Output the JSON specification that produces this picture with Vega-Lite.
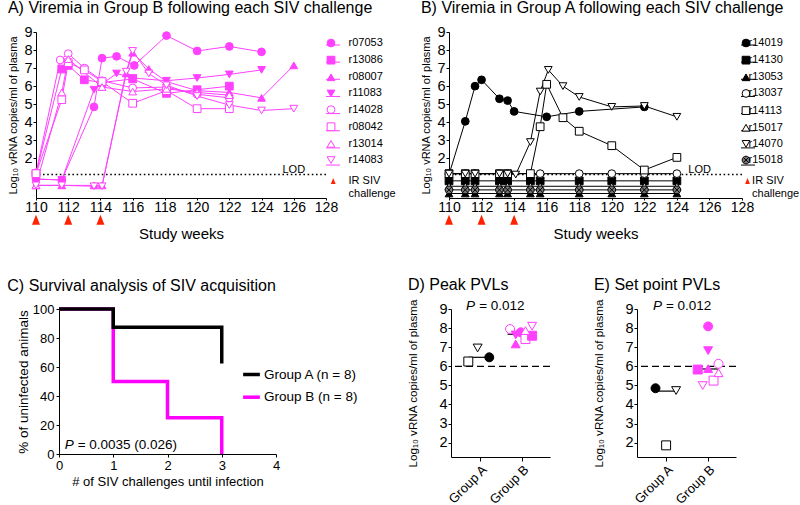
{
"$schema":"https://vega.github.io/schema/vega-lite/v6.json",
"background":"white",
"padding":{"left":0,"top":0,"right":0,"bottom":0},
"spacing":35,
"columns":1,
"align":"none",
"resolve":{"scale":{"shape":"independent","fill":"independent","stroke":"independent","color":"independent"},"legend":{"shape":"independent","fill":"independent","stroke":"independent","color":"independent"}},
"datasets":{
"gb":[
{"animal":"r07053","week":110,"v":0.85},{"animal":"r07053","week":111.6,"v":0.8},{"animal":"r07053","week":113.6,"v":4.85},{"animal":"r07053","week":114.1,"v":7.55},{"animal":"r07053","week":115,"v":7.65},{"animal":"r07053","week":116.1,"v":7.15},{"animal":"r07053","week":118.1,"v":8.8},{"animal":"r07053","week":120,"v":7.95},{"animal":"r07053","week":122,"v":8.2},{"animal":"r07053","week":124,"v":7.9},
{"animal":"r13086","week":110,"v":1.15},{"animal":"r13086","week":111.6,"v":6.95},{"animal":"r13086","week":112,"v":7.15},{"animal":"r13086","week":113,"v":6.35},{"animal":"r13086","week":114.1,"v":6.2},{"animal":"r13086","week":116,"v":6.4},{"animal":"r13086","week":118.1,"v":5.6},{"animal":"r13086","week":120,"v":5.8},{"animal":"r13086","week":122,"v":6.0},
{"animal":"r08007","week":110,"v":0.5},{"animal":"r08007","week":111.6,"v":0.5},{"animal":"r08007","week":113.6,"v":0.5},{"animal":"r08007","week":114.1,"v":0.5},{"animal":"r08007","week":115.6,"v":6.7},{"animal":"r08007","week":116,"v":7.85},{"animal":"r08007","week":117,"v":6.95},{"animal":"r08007","week":118.1,"v":6.25},{"animal":"r08007","week":120,"v":5.75},{"animal":"r08007","week":122,"v":5.65},{"animal":"r08007","week":124,"v":5.35},{"animal":"r08007","week":126,"v":7.15},
{"animal":"r11083","week":110,"v":0.85},{"animal":"r11083","week":111.6,"v":0.8},{"animal":"r11083","week":113.6,"v":5.8},{"animal":"r11083","week":115,"v":6.7},{"animal":"r11083","week":116,"v":6.45},{"animal":"r11083","week":118.1,"v":6.3},{"animal":"r11083","week":120,"v":6.45},{"animal":"r11083","week":122,"v":6.65},{"animal":"r11083","week":124,"v":6.9},
{"animal":"r14028","week":110,"v":1.2},{"animal":"r14028","week":111.5,"v":7.45},{"animal":"r14028","week":112,"v":7.8},{"animal":"r14028","week":113,"v":7.0},{"animal":"r14028","week":114.1,"v":6.3},{"animal":"r14028","week":116,"v":5.9},{"animal":"r14028","week":118.1,"v":5.95},{"animal":"r14028","week":120,"v":5.55},{"animal":"r14028","week":122,"v":5.35},
{"animal":"r08042","week":110,"v":1.15},{"animal":"r08042","week":111.6,"v":5.25},{"animal":"r08042","week":112,"v":7.3},{"animal":"r08042","week":113,"v":6.9},{"animal":"r08042","week":114.1,"v":6.25},{"animal":"r08042","week":116,"v":5.05},{"animal":"r08042","week":118.1,"v":5.75},{"animal":"r08042","week":120,"v":4.75},{"animal":"r08042","week":122,"v":4.75},
{"animal":"r13014","week":110,"v":0.5},{"animal":"r13014","week":111.6,"v":5.65},{"animal":"r13014","week":112,"v":7.5},{"animal":"r13014","week":114.1,"v":5.95},{"animal":"r13014","week":116,"v":5.7},{"animal":"r13014","week":118.1,"v":5.85},{"animal":"r13014","week":120,"v":5.65},{"animal":"r13014","week":122,"v":5.5},
{"animal":"r14083","week":110,"v":0.5},{"animal":"r14083","week":111.6,"v":0.5},{"animal":"r14083","week":113.6,"v":0.45},{"animal":"r14083","week":114.1,"v":0.45},{"animal":"r14083","week":115.6,"v":6.8},{"animal":"r14083","week":116,"v":7.95},{"animal":"r14083","week":117,"v":6.7},{"animal":"r14083","week":118.1,"v":6.05},{"animal":"r14083","week":120,"v":5.45},{"animal":"r14083","week":122,"v":4.95},{"animal":"r14083","week":124,"v":4.65},{"animal":"r14083","week":126,"v":4.75}
],
"ga":[
{"animal":"r14019","week":110,"v":1.1},{"animal":"r14019","week":111,"v":4.05},{"animal":"r14019","week":111.6,"v":6.0},{"animal":"r14019","week":112,"v":6.35},{"animal":"r14019","week":113.1,"v":5.3},{"animal":"r14019","week":113.6,"v":5.2},{"animal":"r14019","week":114,"v":4.6},{"animal":"r14019","week":116,"v":4.3},{"animal":"r14019","week":118,"v":4.6},{"animal":"r14019","week":122,"v":4.85},
{"animal":"r14130","week":110,"v":0.75},{"animal":"r14130","week":111,"v":0.75},{"animal":"r14130","week":111.6,"v":0.75},{"animal":"r14130","week":113.1,"v":0.75},{"animal":"r14130","week":113.6,"v":0.75},{"animal":"r14130","week":115,"v":0.75},{"animal":"r14130","week":115.6,"v":0.75},{"animal":"r14130","week":118,"v":0.75},{"animal":"r14130","week":120,"v":0.75},{"animal":"r14130","week":122,"v":0.75},{"animal":"r14130","week":124,"v":0.75},
{"animal":"r13053","week":110,"v":0.05},{"animal":"r13053","week":111,"v":0.05},{"animal":"r13053","week":111.6,"v":0.05},{"animal":"r13053","week":113.1,"v":0.05},{"animal":"r13053","week":113.6,"v":0.05},{"animal":"r13053","week":115,"v":0.05},{"animal":"r13053","week":115.6,"v":0.05},{"animal":"r13053","week":118,"v":0.05},{"animal":"r13053","week":120,"v":0.05},{"animal":"r13053","week":122,"v":0.05},{"animal":"r13053","week":124,"v":0.05},
{"animal":"r13037","week":110,"v":1.15},{"animal":"r13037","week":111,"v":1.15},{"animal":"r13037","week":111.6,"v":1.15},{"animal":"r13037","week":113.1,"v":1.15},{"animal":"r13037","week":113.6,"v":1.15},{"animal":"r13037","week":115,"v":1.15},{"animal":"r13037","week":115.6,"v":1.15},{"animal":"r13037","week":118,"v":1.15},{"animal":"r13037","week":120,"v":1.15},{"animal":"r13037","week":122,"v":1.15},{"animal":"r13037","week":124,"v":1.15},
{"animal":"r14113","week":110,"v":1.15},{"animal":"r14113","week":111,"v":1.15},{"animal":"r14113","week":111.6,"v":1.15},{"animal":"r14113","week":113.1,"v":1.15},{"animal":"r14113","week":113.6,"v":1.15},{"animal":"r14113","week":115,"v":1.15},{"animal":"r14113","week":115.6,"v":3.75},{"animal":"r14113","week":116,"v":6.1},{"animal":"r14113","week":117,"v":4.25},{"animal":"r14113","week":118,"v":3.5},{"animal":"r14113","week":120,"v":2.7},{"animal":"r14113","week":122,"v":1.35},{"animal":"r14113","week":124,"v":2.05},
{"animal":"r15017","week":110,"v":0.45},{"animal":"r15017","week":111,"v":0.45},{"animal":"r15017","week":111.6,"v":0.45},{"animal":"r15017","week":113.1,"v":0.45},{"animal":"r15017","week":113.6,"v":0.45},{"animal":"r15017","week":115,"v":0.45},{"animal":"r15017","week":115.6,"v":0.45},{"animal":"r15017","week":118,"v":0.45},{"animal":"r15017","week":120,"v":0.45},{"animal":"r15017","week":122,"v":0.45},{"animal":"r15017","week":124,"v":0.45},
{"animal":"r14070","week":110,"v":1.15},{"animal":"r14070","week":111,"v":1.15},{"animal":"r14070","week":111.6,"v":1.15},{"animal":"r14070","week":113.1,"v":1.15},{"animal":"r14070","week":113.6,"v":1.15},{"animal":"r14070","week":114.1,"v":1.1},{"animal":"r14070","week":115,"v":2.9},{"animal":"r14070","week":115.6,"v":5.7},{"animal":"r14070","week":116.1,"v":6.9},{"animal":"r14070","week":117,"v":6.0},{"animal":"r14070","week":118,"v":5.4},{"animal":"r14070","week":120,"v":4.85},{"animal":"r14070","week":122,"v":4.9},{"animal":"r14070","week":124,"v":4.3},
{"animal":"r15018","week":110,"v":0.25},{"animal":"r15018","week":111,"v":0.25},{"animal":"r15018","week":111.6,"v":0.25},{"animal":"r15018","week":113.1,"v":0.25},{"animal":"r15018","week":113.6,"v":0.25},{"animal":"r15018","week":115,"v":0.25},{"animal":"r15018","week":115.6,"v":0.25},{"animal":"r15018","week":118,"v":0.25},{"animal":"r15018","week":120,"v":0.25},{"animal":"r15018","week":122,"v":0.25},{"animal":"r15018","week":124,"v":0.25}
],
"surv":[
{"grp":"Group A (n = 8)","n":0,"pct":100},{"grp":"Group A (n = 8)","n":1,"pct":87.5},{"grp":"Group A (n = 8)","n":3,"pct":62.5},
{"grp":"Group B (n = 8)","n":0,"pct":100},{"grp":"Group B (n = 8)","n":1,"pct":50},{"grp":"Group B (n = 8)","n":2,"pct":25},{"grp":"Group B (n = 8)","n":3,"pct":0}
],
"peak":[
{"animal":"r14113","xpos":0.716,"v":6.25},{"animal":"r14019","xpos":1.22,"v":6.47},{"animal":"r14070","xpos":0.94,"v":6.96},
{"animal":"r14028","xpos":1.72,"v":7.95},{"animal":"r11083","xpos":1.855,"v":7.64},{"animal":"r07053","xpos":1.975,"v":7.78},{"animal":"r08007","xpos":1.855,"v":7.17},{"animal":"r08042","xpos":2.09,"v":7.43},{"animal":"r13086","xpos":2.25,"v":7.6},{"animal":"r13014","xpos":2.09,"v":7.87},{"animal":"r14083","xpos":2.25,"v":8.1}
],
"peakmed":[{"xpos":0.716,"x2":1.22,"v":6.47},{"xpos":1.66,"x2":2.25,"v":7.68}],
"setp":[
{"animal":"r14019","xpos":0.745,"v":4.85},{"animal":"r14113","xpos":1.0,"v":1.86},{"animal":"r14070","xpos":1.24,"v":4.73},
{"animal":"r13086","xpos":1.76,"v":5.83},{"animal":"r11083","xpos":2.01,"v":6.82},{"animal":"r07053","xpos":2.01,"v":8.09},{"animal":"r08007","xpos":2.01,"v":5.88},{"animal":"r14083","xpos":1.88,"v":4.99},{"animal":"r08042","xpos":2.14,"v":5.25},{"animal":"r13014","xpos":2.26,"v":5.66},{"animal":"r14028","xpos":2.26,"v":6.13}
],
"setmed":[{"xpos":0.745,"x2":1.24,"v":4.7},{"xpos":1.76,"x2":2.26,"v":5.86}],
"chal":[{"week":110},{"week":112},{"week":114}]
},
"concat":[
{"hconcat":[
{"width":1,"height":1,"data":{"values":[{"k":1}]},"mark":{"type":"point","opacity":0},"encoding":{}},
{"hconcat":[
{
"width":290,"height":166,
"title":{"text":"A) Viremia in Group B following each SIV challenge","offset":8},
"layer":[
{"data":{"values":[{"v":1.1}]},"mark":{"type":"rule","stroke":"#000","strokeWidth":1.6,"strokeDash":[1.6,2.6]},"encoding":{"y":{"field":"v","type":"quantitative","scale":{"domain":[-0.2,9],"nice":false,"zero":false},"axis":{"values":[2,3,4,5,6,7,8,9],"title":"Log₁₀ vRNA copies/ml of plasma","titleFontSize":11,"labelFontSize":14.5,"tickSize":3,"labelPadding":1,"titlePadding":5,"labelOverlap":false}}}},
{"data":{"name":"gb"},"mark":{"type":"line","strokeWidth":1},"encoding":{
"x":{"field":"week","type":"quantitative","scale":{"domain":[110,128],"nice":false,"zero":false},"axis":{"values":[110,112,114,116,118,120,122,124,126,128],"title":"Study weeks","titleFontSize":15,"labelFontSize":14,"tickSize":2,"labelPadding":0,"titlePadding":12,"labelOverlap":false}},
"y":{"field":"v","type":"quantitative","scale":{"domain":[-0.2,9],"nice":false,"zero":false},"axis":{"values":[2,3,4,5,6,7,8,9],"title":"Log₁₀ vRNA copies/ml of plasma","titleFontSize":11,"labelFontSize":14.5,"tickSize":3,"labelPadding":1,"titlePadding":5,"labelOverlap":false}},
"color":{"field":"animal","type":"nominal","scale":{"domain":["r14083","r13014","r08042","r14028","r11083","r08007","r13086","r07053"],"range":["#ff40ff","#ff40ff","#ff40ff","#ff40ff","#ff40ff","#ff40ff","#ff40ff","#ff40ff"]},"legend":{"orient":"right","offset":-4.5,"padding":5.5,"title":null,"values":["r07053","r13086","r08007","r11083","r14028","r08042","r13014","r14083"],"symbolType":"stroke","symbolSize":196,"symbolStrokeWidth":1,"symbolOffset":-2,"labelFontSize":11,"labelOpacity":0,"rowPadding":4.15,"zindex":0}}}},
{"data":{"name":"gb"},"mark":{"type":"point","filled":true,"size":60,"strokeWidth":1,"opacity":1},"encoding":{
"x":{"field":"week","type":"quantitative","scale":{"domain":[110,128],"nice":false,"zero":false},"axis":{"values":[110,112,114,116,118,120,122,124,126,128],"title":"Study weeks","titleFontSize":15,"labelFontSize":14,"tickSize":2,"labelPadding":0,"titlePadding":12,"labelOverlap":false}},
"y":{"field":"v","type":"quantitative","scale":{"domain":[-0.2,9],"nice":false,"zero":false},"axis":{"values":[2,3,4,5,6,7,8,9],"title":"Log₁₀ vRNA copies/ml of plasma","titleFontSize":11,"labelFontSize":14.5,"tickSize":3,"labelPadding":1,"titlePadding":5,"labelOverlap":false}},
"shape":{"field":"animal","type":"nominal","scale":{"domain":["r07053","r13086","r08007","r11083","r14028","r08042","r13014","r14083"],"range":["circle","square","triangle-up","triangle-down","circle","square","triangle-up","triangle-down"]},"legend":{"orient":"none","legendX":285.5,"legendY":0,"padding":5.5,"title":null,"symbolSize":60,"symbolStrokeWidth":1,"symbolOffset":-1.5,"labelFontSize":11,"labelOffset":12,"rowPadding":4.15,"zindex":1}},
"fill":{"field":"animal","type":"nominal","scale":{"domain":["r07053","r13086","r08007","r11083","r14028","r08042","r13014","r14083"],"range":["#ff40ff","#ff40ff","#ff40ff","#ff40ff","white","white","white","white"]},"legend":{"orient":"none","legendX":285.5,"legendY":0,"padding":5.5,"title":null,"symbolSize":60,"symbolStrokeWidth":1,"symbolOffset":-1.5,"labelFontSize":11,"labelOffset":12,"rowPadding":4.15,"zindex":1}},
"stroke":{"field":"animal","type":"nominal","scale":{"domain":["r07053","r13086","r08007","r11083","r14028","r08042","r13014","r14083"],"range":["#ff40ff","#ff40ff","#ff40ff","#ff40ff","#ff40ff","#ff40ff","#ff40ff","#ff40ff"]},"legend":{"orient":"none","legendX":285.5,"legendY":0,"padding":5.5,"title":null,"symbolSize":60,"symbolStrokeWidth":1,"symbolOffset":-1.5,"labelFontSize":11,"labelOffset":12,"rowPadding":4.15,"zindex":1}}}},
{"data":{"values":[{"v":1.1}]},"mark":{"type":"text","fontSize":11,"dy":-5},"encoding":{
"x":{"datum":126,"type":"quantitative","scale":{"domain":[110,128],"nice":false,"zero":false},"axis":{"values":[110,112,114,116,118,120,122,124,126,128],"title":"Study weeks","titleFontSize":15,"labelFontSize":14,"tickSize":2,"labelPadding":0,"titlePadding":12,"labelOverlap":false}},
"y":{"field":"v","type":"quantitative","scale":{"domain":[-0.2,9],"nice":false,"zero":false},"axis":{"values":[2,3,4,5,6,7,8,9],"title":"Log₁₀ vRNA copies/ml of plasma","titleFontSize":11,"labelFontSize":14.5,"tickSize":3,"labelPadding":1,"titlePadding":5,"labelOverlap":false}},
"text":{"value":"LOD"}}},
{"data":{"name":"chal"},"mark":{"type":"point","shape":"M0,-1L0.8,1L-0.8,1Z","size":100,"filled":true,"color":"#ff2200","opacity":1},"encoding":{
"x":{"field":"week","type":"quantitative","scale":{"domain":[110,128],"nice":false,"zero":false},"axis":{"values":[110,112,114,116,118,120,122,124,126,128],"title":"Study weeks","titleFontSize":15,"labelFontSize":14,"tickSize":2,"labelPadding":0,"titlePadding":12,"labelOverlap":false}},
"y":{"datum":-1.4,"type":"quantitative","scale":{"domain":[-0.2,9],"nice":false,"zero":false},"axis":{"values":[2,3,4,5,6,7,8,9],"title":"Log₁₀ vRNA copies/ml of plasma","titleFontSize":11,"labelFontSize":14.5,"tickSize":3,"labelPadding":1,"titlePadding":5,"labelOverlap":false}}}},
{"data":{"values":[{"k":1}]},"mark":{"type":"point","shape":"M0,-1L0.8,1L-0.8,1Z","size":36,"filled":true,"color":"#ff2200","opacity":1},"encoding":{
"x":{"datum":128.45,"type":"quantitative","scale":{"domain":[110,128],"nice":false,"zero":false},"axis":{"values":[110,112,114,116,118,120,122,124,126,128],"title":"Study weeks","titleFontSize":15,"labelFontSize":14,"tickSize":2,"labelPadding":0,"titlePadding":12,"labelOverlap":false}},
"y":{"datum":0.74,"type":"quantitative","scale":{"domain":[-0.2,9],"nice":false,"zero":false},"axis":{"values":[2,3,4,5,6,7,8,9],"title":"Log₁₀ vRNA copies/ml of plasma","titleFontSize":11,"labelFontSize":14.5,"tickSize":3,"labelPadding":1,"titlePadding":5,"labelOverlap":false}}}},
{"data":{"values":[{"k":1}]},"mark":{"type":"text","fontSize":11,"align":"left","lineHeight":12.6},"encoding":{
"x":{"datum":129.4,"type":"quantitative","scale":{"domain":[110,128],"nice":false,"zero":false},"axis":{"values":[110,112,114,116,118,120,122,124,126,128],"title":"Study weeks","titleFontSize":15,"labelFontSize":14,"tickSize":2,"labelPadding":0,"titlePadding":12,"labelOverlap":false}},
"y":{"datum":0.72,"type":"quantitative","scale":{"domain":[-0.2,9],"nice":false,"zero":false},"axis":{"values":[2,3,4,5,6,7,8,9],"title":"Log₁₀ vRNA copies/ml of plasma","titleFontSize":11,"labelFontSize":14.5,"tickSize":3,"labelPadding":1,"titlePadding":5,"labelOverlap":false}},
"text":{"value":["IR SIV","challenge"]}}}
]
},
{
"width":293,"height":166,
"title":{"text":"B) Viremia in Group A following each SIV challenge","offset":8},
"layer":[
{"data":{"values":[{"v":1.1}]},"mark":{"type":"rule","stroke":"#000","strokeWidth":1.6,"strokeDash":[1.6,2.6]},"encoding":{"y":{"field":"v","type":"quantitative","scale":{"domain":[-0.2,9],"nice":false,"zero":false},"axis":{"values":[2,3,4,5,6,7,8,9],"title":"Log₁₀ vRNA copies/ml of plasma","titleFontSize":11,"labelFontSize":14.5,"tickSize":3,"labelPadding":1,"titlePadding":5,"labelOverlap":false}}}},
{"data":{"name":"ga"},"mark":{"type":"line","strokeWidth":1},"encoding":{
"x":{"field":"week","type":"quantitative","scale":{"domain":[110,128],"nice":false,"zero":false},"axis":{"values":[110,112,114,116,118,120,122,124,126,128],"title":"Study weeks","titleFontSize":15,"labelFontSize":14,"tickSize":2,"labelPadding":0,"titlePadding":12,"labelOverlap":false}},
"y":{"field":"v","type":"quantitative","scale":{"domain":[-0.2,9],"nice":false,"zero":false},"axis":{"values":[2,3,4,5,6,7,8,9],"title":"Log₁₀ vRNA copies/ml of plasma","titleFontSize":11,"labelFontSize":14.5,"tickSize":3,"labelPadding":1,"titlePadding":5,"labelOverlap":false}},
"color":{"field":"animal","type":"nominal","scale":{"domain":["r15018","r14070","r15017","r14113","r13037","r13053","r14130","r14019"],"range":["#000","#000","#000","#000","#000","#000","#000","#000"]},"legend":{"orient":"right","offset":-5.5,"padding":5.5,"title":null,"values":["r14019","r14130","r13053","r13037","r14113","r15017","r14070","r15018"],"symbolType":"stroke","symbolSize":196,"symbolStrokeWidth":1,"symbolOffset":-2,"labelFontSize":11,"labelOpacity":0,"rowPadding":4.15,"zindex":0}}}},
{"data":{"name":"ga"},"mark":{"type":"point","filled":true,"size":60,"strokeWidth":1,"opacity":1},"encoding":{
"x":{"field":"week","type":"quantitative","scale":{"domain":[110,128],"nice":false,"zero":false},"axis":{"values":[110,112,114,116,118,120,122,124,126,128],"title":"Study weeks","titleFontSize":15,"labelFontSize":14,"tickSize":2,"labelPadding":0,"titlePadding":12,"labelOverlap":false}},
"y":{"field":"v","type":"quantitative","scale":{"domain":[-0.2,9],"nice":false,"zero":false},"axis":{"values":[2,3,4,5,6,7,8,9],"title":"Log₁₀ vRNA copies/ml of plasma","titleFontSize":11,"labelFontSize":14.5,"tickSize":3,"labelPadding":1,"titlePadding":5,"labelOverlap":false}},
"shape":{"field":"animal","type":"nominal","scale":{"domain":["r14019","r14130","r13053","r13037","r14113","r15017","r14070","r15018"],"range":["circle","square","triangle-up","circle","square","triangle-up","triangle-down","M1,0A1,1,0,1,1,-1,0A1,1,0,1,1,1,0ZM-0.7,-0.7L0.7,0.7M-0.7,0.7L0.7,-0.7"]},"legend":{"orient":"none","legendX":287.5,"legendY":0,"padding":5.5,"title":null,"symbolSize":60,"symbolStrokeWidth":1,"symbolOffset":-1.5,"labelFontSize":11,"labelOffset":-3,"rowPadding":4.15,"zindex":1}},
"fill":{"field":"animal","type":"nominal","scale":{"domain":["r14019","r14130","r13053","r13037","r14113","r15017","r14070","r15018"],"range":["#000","#000","#000","white","white","white","white","#777"]},"legend":{"orient":"none","legendX":287.5,"legendY":0,"padding":5.5,"title":null,"symbolSize":60,"symbolStrokeWidth":1,"symbolOffset":-1.5,"labelFontSize":11,"labelOffset":-3,"rowPadding":4.15,"zindex":1}},
"stroke":{"field":"animal","type":"nominal","scale":{"domain":["r14019","r14130","r13053","r13037","r14113","r15017","r14070","r15018"],"range":["#000","#000","#000","#000","#000","#000","#000","#000"]},"legend":{"orient":"none","legendX":287.5,"legendY":0,"padding":5.5,"title":null,"symbolSize":60,"symbolStrokeWidth":1,"symbolOffset":-1.5,"labelFontSize":11,"labelOffset":-3,"rowPadding":4.15,"zindex":1}}}},
{"data":{"values":[{"v":1.1}]},"mark":{"type":"text","fontSize":11,"dy":-5},"encoding":{
"x":{"datum":125.4,"type":"quantitative","scale":{"domain":[110,128],"nice":false,"zero":false},"axis":{"values":[110,112,114,116,118,120,122,124,126,128],"title":"Study weeks","titleFontSize":15,"labelFontSize":14,"tickSize":2,"labelPadding":0,"titlePadding":12,"labelOverlap":false}},
"y":{"field":"v","type":"quantitative","scale":{"domain":[-0.2,9],"nice":false,"zero":false},"axis":{"values":[2,3,4,5,6,7,8,9],"title":"Log₁₀ vRNA copies/ml of plasma","titleFontSize":11,"labelFontSize":14.5,"tickSize":3,"labelPadding":1,"titlePadding":5,"labelOverlap":false}},
"text":{"value":"LOD"}}},
{"data":{"name":"chal"},"mark":{"type":"point","shape":"M0,-1L0.8,1L-0.8,1Z","size":100,"filled":true,"color":"#ff2200","opacity":1},"encoding":{
"x":{"field":"week","type":"quantitative","scale":{"domain":[110,128],"nice":false,"zero":false},"axis":{"values":[110,112,114,116,118,120,122,124,126,128],"title":"Study weeks","titleFontSize":15,"labelFontSize":14,"tickSize":2,"labelPadding":0,"titlePadding":12,"labelOverlap":false}},
"y":{"datum":-1.4,"type":"quantitative","scale":{"domain":[-0.2,9],"nice":false,"zero":false},"axis":{"values":[2,3,4,5,6,7,8,9],"title":"Log₁₀ vRNA copies/ml of plasma","titleFontSize":11,"labelFontSize":14.5,"tickSize":3,"labelPadding":1,"titlePadding":5,"labelOverlap":false}}}},
{"data":{"values":[{"k":1}]},"mark":{"type":"point","shape":"M0,-1L0.8,1L-0.8,1Z","size":36,"filled":true,"color":"#ff2200","opacity":1},"encoding":{
"x":{"datum":128.34,"type":"quantitative","scale":{"domain":[110,128],"nice":false,"zero":false},"axis":{"values":[110,112,114,116,118,120,122,124,126,128],"title":"Study weeks","titleFontSize":15,"labelFontSize":14,"tickSize":2,"labelPadding":0,"titlePadding":12,"labelOverlap":false}},
"y":{"datum":0.74,"type":"quantitative","scale":{"domain":[-0.2,9],"nice":false,"zero":false},"axis":{"values":[2,3,4,5,6,7,8,9],"title":"Log₁₀ vRNA copies/ml of plasma","titleFontSize":11,"labelFontSize":14.5,"tickSize":3,"labelPadding":1,"titlePadding":5,"labelOverlap":false}}}},
{"data":{"values":[{"k":1}]},"mark":{"type":"text","fontSize":11,"align":"left","lineHeight":12.6},"encoding":{
"x":{"datum":128.62,"type":"quantitative","scale":{"domain":[110,128],"nice":false,"zero":false},"axis":{"values":[110,112,114,116,118,120,122,124,126,128],"title":"Study weeks","titleFontSize":15,"labelFontSize":14,"tickSize":2,"labelPadding":0,"titlePadding":12,"labelOverlap":false}},
"y":{"datum":0.72,"type":"quantitative","scale":{"domain":[-0.2,9],"nice":false,"zero":false},"axis":{"values":[2,3,4,5,6,7,8,9],"title":"Log₁₀ vRNA copies/ml of plasma","titleFontSize":11,"labelFontSize":14.5,"tickSize":3,"labelPadding":1,"titlePadding":5,"labelOverlap":false}},
"text":{"value":["IR SIV","challenge"]}}}
]
}
],"spacing":24,"resolve":{"scale":{"shape":"independent","fill":"independent","stroke":"independent","color":"independent"},"legend":{"shape":"independent","fill":"independent","stroke":"independent","color":"independent"}}}
],"spacing":0,"resolve":{"scale":{"shape":"independent","fill":"independent","stroke":"independent","color":"independent"},"legend":{"shape":"independent","fill":"independent","stroke":"independent","color":"independent"}}},
{"hconcat":[
{"width":1,"height":1,"data":{"values":[{"k":1}]},"mark":{"type":"point","opacity":0},"encoding":{}},
{"hconcat":[
{
"width":217,"height":145,
"title":{"text":"C) Survival analysis of SIV acquisition","offset":8,"dx":-9},
"data":{"name":"surv"},
"layer":[
{"transform":[{"filter":"datum.grp == 'Group B (n = 8)'"}],"mark":{"type":"line","interpolate":"step-after","strokeWidth":3.5},"encoding":{
"x":{"field":"n","type":"quantitative","scale":{"domain":[0,4],"nice":false},"axis":{"values":[0,1,2,3,4],"format":"d","title":"# of SIV challenges until infection","titleFontSize":13,"labelFontSize":13,"tickSize":3,"labelPadding":2,"titlePadding":3,"labelOverlap":false}},
"y":{"field":"pct","type":"quantitative","scale":{"domain":[0,100],"nice":false},"axis":{"values":[0,20,40,60,80,100],"format":"d","title":"% of uninfected animals","titleFontSize":13.5,"labelFontSize":13,"tickSize":3,"labelPadding":2,"titlePadding":2,"labelOverlap":false}},
"color":{"field":"grp","type":"nominal","scale":{"domain":["Group A (n = 8)","Group B (n = 8)"],"range":["#000","#ff00ff"]},"legend":{"orient":"none","legendX":182,"legendY":55,"title":null,"labelFontSize":13.5,"symbolType":"stroke","symbolStrokeWidth":3.5,"symbolSize":280,"rowPadding":4.7,"labelOffset":2}}}},
{"transform":[{"filter":"datum.grp == 'Group A (n = 8)'"}],"mark":{"type":"line","interpolate":"step-after","strokeWidth":3.5},"encoding":{
"x":{"field":"n","type":"quantitative","scale":{"domain":[0,4],"nice":false},"axis":{"values":[0,1,2,3,4],"format":"d","title":"# of SIV challenges until infection","titleFontSize":13,"labelFontSize":13,"tickSize":3,"labelPadding":2,"titlePadding":3,"labelOverlap":false}},
"y":{"field":"pct","type":"quantitative","scale":{"domain":[0,100],"nice":false},"axis":{"values":[0,20,40,60,80,100],"format":"d","title":"% of uninfected animals","titleFontSize":13.5,"labelFontSize":13,"tickSize":3,"labelPadding":2,"titlePadding":2,"labelOverlap":false}},
"color":{"field":"grp","type":"nominal"}}},
{"data":{"values":[{"k":1}]},"mark":{"type":"text","fontSize":13.5,"fontStyle":"italic","align":"right"},"encoding":{
"x":{"datum":0.27,"type":"quantitative","scale":{"domain":[0,4],"nice":false},"axis":{"values":[0,1,2,3,4],"format":"d","title":"# of SIV challenges until infection","titleFontSize":13,"labelFontSize":13,"tickSize":3,"labelPadding":2,"titlePadding":3,"labelOverlap":false}},
"y":{"datum":6,"type":"quantitative","scale":{"domain":[0,100],"nice":false},"axis":{"values":[0,20,40,60,80,100],"format":"d","title":"% of uninfected animals","titleFontSize":13.5,"labelFontSize":13,"tickSize":3,"labelPadding":2,"titlePadding":2,"labelOverlap":false}},
"text":{"value":"P"}}},
{"data":{"values":[{"k":1}]},"mark":{"type":"text","fontSize":13.5,"align":"left","dx":4},"encoding":{
"x":{"datum":0.27,"type":"quantitative","scale":{"domain":[0,4],"nice":false},"axis":{"values":[0,1,2,3,4],"format":"d","title":"# of SIV challenges until infection","titleFontSize":13,"labelFontSize":13,"tickSize":3,"labelPadding":2,"titlePadding":3,"labelOverlap":false}},
"y":{"datum":6,"type":"quantitative","scale":{"domain":[0,100],"nice":false},"axis":{"values":[0,20,40,60,80,100],"format":"d","title":"% of uninfected animals","titleFontSize":13.5,"labelFontSize":13,"tickSize":3,"labelPadding":2,"titlePadding":2,"labelOverlap":false}},
"text":{"value":"= 0.0035 (0.026)"}}}
]
},
{"hconcat":[
{
"width":99,"height":148,
"title":{"text":"D) Peak PVLs","offset":6},
"layer":[
{"data":{"values":[{"v":6}]},"mark":{"type":"rule","strokeDash":[7,4],"strokeWidth":1.2,"color":"#000"},"encoding":{
"y":{"field":"v","type":"quantitative","scale":{"domain":[1.25,9],"nice":false,"zero":false},"axis":{"values":[2,3,4,5,6,7,8,9],"title":"Log₁₀ vRNA copies/ml of plasma","titleFontSize":11.7,"labelFontSize":14.5,"tickSize":3,"labelPadding":1,"titlePadding":20,"labelOverlap":false}}}},
{"data":{"name":"peakmed"},"mark":{"type":"rule","strokeWidth":1.2,"color":"#000"},"encoding":{
"x":{"field":"xpos","type":"quantitative","scale":{"domain":[0.3,2.68],"nice":false,"zero":false},"axis":{"values":[1,2],"labelExpr":"datum.value == 1 ? 'Group A' : 'Group B'","labelAngle":-45,"labelFontSize":13,"title":null,"tickSize":4,"labelPadding":2,"labelOverlap":false}},
"x2":{"field":"x2"},
"y":{"field":"v","type":"quantitative","scale":{"domain":[1.25,9],"nice":false,"zero":false},"axis":{"values":[2,3,4,5,6,7,8,9],"title":"Log₁₀ vRNA copies/ml of plasma","titleFontSize":11.7,"labelFontSize":14.5,"tickSize":3,"labelPadding":1,"titlePadding":20,"labelOverlap":false}}}},
{"data":{"name":"peak"},"mark":{"type":"point","filled":true,"size":80,"strokeWidth":1,"opacity":1},"encoding":{
"x":{"field":"xpos","type":"quantitative","scale":{"domain":[0.3,2.68],"nice":false,"zero":false},"axis":{"values":[1,2],"labelExpr":"datum.value == 1 ? 'Group A' : 'Group B'","labelAngle":-45,"labelFontSize":13,"title":null,"tickSize":4,"labelPadding":2,"labelOverlap":false}},
"y":{"field":"v","type":"quantitative","scale":{"domain":[1.25,9],"nice":false,"zero":false},"axis":{"values":[2,3,4,5,6,7,8,9],"title":"Log₁₀ vRNA copies/ml of plasma","titleFontSize":11.7,"labelFontSize":14.5,"tickSize":3,"labelPadding":1,"titlePadding":20,"labelOverlap":false}},
"shape":{"field":"animal","type":"nominal","legend":null,"scale":{"domain":["r07053","r13086","r08007","r11083","r14028","r08042","r13014","r14083","r14019","r14130","r13053","r13037","r14113","r15017","r14070","r15018"],"range":["circle","square","triangle-up","triangle-down","circle","square","triangle-up","triangle-down","circle","square","triangle-up","circle","square","triangle-up","triangle-down","circle"]}},
"fill":{"field":"animal","type":"nominal","legend":null,"scale":{"domain":["r07053","r13086","r08007","r11083","r14028","r08042","r13014","r14083","r14019","r14130","r13053","r13037","r14113","r15017","r14070","r15018"],"range":["#ff40ff","#ff40ff","#ff40ff","#ff40ff","white","white","white","white","#000","#000","#000","white","white","white","white","#777"]}},
"stroke":{"field":"animal","type":"nominal","legend":null,"scale":{"domain":["r07053","r13086","r08007","r11083","r14028","r08042","r13014","r14083","r14019","r14130","r13053","r13037","r14113","r15017","r14070","r15018"],"range":["#ff40ff","#ff40ff","#ff40ff","#ff40ff","#ff40ff","#ff40ff","#ff40ff","#ff40ff","#000","#000","#000","#000","#000","#000","#000","#000"]}}}},
{"data":{"values":[{"k":1}]},"mark":{"type":"text","fontSize":13.5,"fontStyle":"italic","align":"right"},"encoding":{
"x":{"datum":0.88,"type":"quantitative","scale":{"domain":[0.3,2.68],"nice":false,"zero":false},"axis":{"values":[1,2],"labelExpr":"datum.value == 1 ? 'Group A' : 'Group B'","labelAngle":-45,"labelFontSize":13,"title":null,"tickSize":4,"labelPadding":2,"labelOverlap":false}},
"y":{"datum":9.15,"type":"quantitative","scale":{"domain":[1.25,9],"nice":false,"zero":false},"axis":{"values":[2,3,4,5,6,7,8,9],"title":"Log₁₀ vRNA copies/ml of plasma","titleFontSize":11.7,"labelFontSize":14.5,"tickSize":3,"labelPadding":1,"titlePadding":20,"labelOverlap":false}},
"text":{"value":"P"}}},
{"data":{"values":[{"k":1}]},"mark":{"type":"text","fontSize":13.5,"align":"left","dx":4},"encoding":{
"x":{"datum":0.88,"type":"quantitative","scale":{"domain":[0.3,2.68],"nice":false,"zero":false},"axis":{"values":[1,2],"labelExpr":"datum.value == 1 ? 'Group A' : 'Group B'","labelAngle":-45,"labelFontSize":13,"title":null,"tickSize":4,"labelPadding":2,"labelOverlap":false}},
"y":{"datum":9.15,"type":"quantitative","scale":{"domain":[1.25,9],"nice":false,"zero":false},"axis":{"values":[2,3,4,5,6,7,8,9],"title":"Log₁₀ vRNA copies/ml of plasma","titleFontSize":11.7,"labelFontSize":14.5,"tickSize":3,"labelPadding":1,"titlePadding":20,"labelOverlap":false}},
"text":{"value":"= 0.012"}}}
]
},
{
"width":99,"height":148,
"title":{"text":"E) Set point PVLs","offset":6},
"layer":[
{"data":{"values":[{"v":6}]},"mark":{"type":"rule","strokeDash":[7,4],"strokeWidth":1.2,"color":"#000"},"encoding":{
"y":{"field":"v","type":"quantitative","scale":{"domain":[1.25,9],"nice":false,"zero":false},"axis":{"values":[2,3,4,5,6,7,8,9],"title":"Log₁₀ vRNA copies/ml of plasma","titleFontSize":11.7,"labelFontSize":14.5,"tickSize":3,"labelPadding":1,"titlePadding":20,"labelOverlap":false}}}},
{"data":{"name":"setmed"},"mark":{"type":"rule","strokeWidth":1.2,"color":"#000"},"encoding":{
"x":{"field":"xpos","type":"quantitative","scale":{"domain":[0.3,2.68],"nice":false,"zero":false},"axis":{"values":[1,2],"labelExpr":"datum.value == 1 ? 'Group A' : 'Group B'","labelAngle":-45,"labelFontSize":13,"title":null,"tickSize":4,"labelPadding":2,"labelOverlap":false}},
"x2":{"field":"x2"},
"y":{"field":"v","type":"quantitative","scale":{"domain":[1.25,9],"nice":false,"zero":false},"axis":{"values":[2,3,4,5,6,7,8,9],"title":"Log₁₀ vRNA copies/ml of plasma","titleFontSize":11.7,"labelFontSize":14.5,"tickSize":3,"labelPadding":1,"titlePadding":20,"labelOverlap":false}}}},
{"data":{"name":"setp"},"mark":{"type":"point","filled":true,"size":80,"strokeWidth":1,"opacity":1},"encoding":{
"x":{"field":"xpos","type":"quantitative","scale":{"domain":[0.3,2.68],"nice":false,"zero":false},"axis":{"values":[1,2],"labelExpr":"datum.value == 1 ? 'Group A' : 'Group B'","labelAngle":-45,"labelFontSize":13,"title":null,"tickSize":4,"labelPadding":2,"labelOverlap":false}},
"y":{"field":"v","type":"quantitative","scale":{"domain":[1.25,9],"nice":false,"zero":false},"axis":{"values":[2,3,4,5,6,7,8,9],"title":"Log₁₀ vRNA copies/ml of plasma","titleFontSize":11.7,"labelFontSize":14.5,"tickSize":3,"labelPadding":1,"titlePadding":20,"labelOverlap":false}},
"shape":{"field":"animal","type":"nominal","legend":null,"scale":{"domain":["r07053","r13086","r08007","r11083","r14028","r08042","r13014","r14083","r14019","r14130","r13053","r13037","r14113","r15017","r14070","r15018"],"range":["circle","square","triangle-up","triangle-down","circle","square","triangle-up","triangle-down","circle","square","triangle-up","circle","square","triangle-up","triangle-down","circle"]}},
"fill":{"field":"animal","type":"nominal","legend":null,"scale":{"domain":["r07053","r13086","r08007","r11083","r14028","r08042","r13014","r14083","r14019","r14130","r13053","r13037","r14113","r15017","r14070","r15018"],"range":["#ff40ff","#ff40ff","#ff40ff","#ff40ff","white","white","white","white","#000","#000","#000","white","white","white","white","#777"]}},
"stroke":{"field":"animal","type":"nominal","legend":null,"scale":{"domain":["r07053","r13086","r08007","r11083","r14028","r08042","r13014","r14083","r14019","r14130","r13053","r13037","r14113","r15017","r14070","r15018"],"range":["#ff40ff","#ff40ff","#ff40ff","#ff40ff","#ff40ff","#ff40ff","#ff40ff","#ff40ff","#000","#000","#000","#000","#000","#000","#000","#000"]}}}},
{"data":{"values":[{"k":1}]},"mark":{"type":"text","fontSize":13.5,"fontStyle":"italic","align":"right"},"encoding":{
"x":{"datum":0.9,"type":"quantitative","scale":{"domain":[0.3,2.68],"nice":false,"zero":false},"axis":{"values":[1,2],"labelExpr":"datum.value == 1 ? 'Group A' : 'Group B'","labelAngle":-45,"labelFontSize":13,"title":null,"tickSize":4,"labelPadding":2,"labelOverlap":false}},
"y":{"datum":9.15,"type":"quantitative","scale":{"domain":[1.25,9],"nice":false,"zero":false},"axis":{"values":[2,3,4,5,6,7,8,9],"title":"Log₁₀ vRNA copies/ml of plasma","titleFontSize":11.7,"labelFontSize":14.5,"tickSize":3,"labelPadding":1,"titlePadding":20,"labelOverlap":false}},
"text":{"value":"P"}}},
{"data":{"values":[{"k":1}]},"mark":{"type":"text","fontSize":13.5,"align":"left","dx":4},"encoding":{
"x":{"datum":0.9,"type":"quantitative","scale":{"domain":[0.3,2.68],"nice":false,"zero":false},"axis":{"values":[1,2],"labelExpr":"datum.value == 1 ? 'Group A' : 'Group B'","labelAngle":-45,"labelFontSize":13,"title":null,"tickSize":4,"labelPadding":2,"labelOverlap":false}},
"y":{"datum":9.15,"type":"quantitative","scale":{"domain":[1.25,9],"nice":false,"zero":false},"axis":{"values":[2,3,4,5,6,7,8,9],"title":"Log₁₀ vRNA copies/ml of plasma","titleFontSize":11.7,"labelFontSize":14.5,"tickSize":3,"labelPadding":1,"titlePadding":20,"labelOverlap":false}},
"text":{"value":"= 0.012"}}}
]
}
],"spacing":42,"resolve":{"scale":{"shape":"independent","fill":"independent","stroke":"independent","color":"independent"},"legend":{"shape":"independent","fill":"independent","stroke":"independent","color":"independent"}}}
],"spacing":49,"resolve":{"scale":{"shape":"independent","fill":"independent","stroke":"independent","color":"independent"},"legend":{"shape":"independent","fill":"independent","stroke":"independent","color":"independent"}}}
],"spacing":0,"resolve":{"scale":{"shape":"independent","fill":"independent","stroke":"independent","color":"independent"},"legend":{"shape":"independent","fill":"independent","stroke":"independent","color":"independent"}}}
],
"config":{
"font":"Liberation Sans",
"view":{"stroke":null},
"axis":{"grid":false,"domainColor":"#000","tickColor":"#000","labelColor":"#000","titleColor":"#000","titleFontWeight":"normal","labelFlush":false,"labelOverlap":false,"domainWidth":1,"tickWidth":1},
"title":{"fontWeight":"normal","fontSize":16,"anchor":"start","color":"#000"},
"legend":{"labelColor":"#000"}
}
}
